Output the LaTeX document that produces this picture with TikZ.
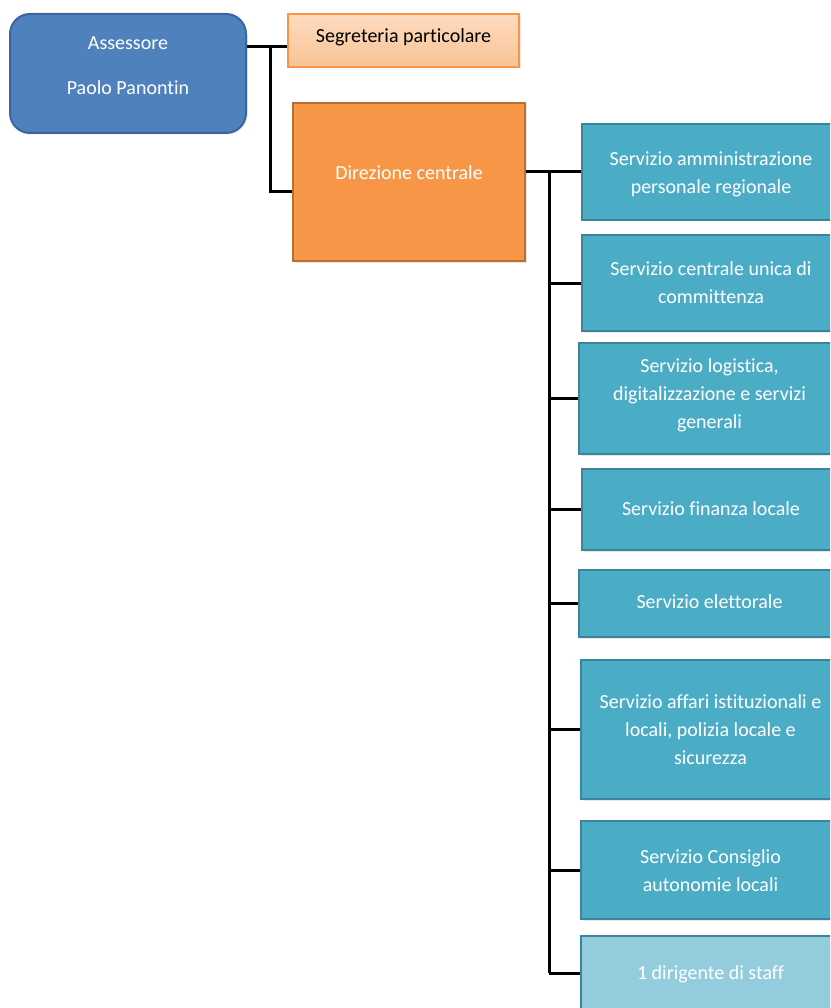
\documentclass[tikz,border=0pt]{standalone}
\usepackage{fontspec}
\setmainfont{Carlito}[Ligatures=NoCommon]
\usepackage{xcolor}
\usepackage{tikz}
\usetikzlibrary{positioning,shadows}
\definecolor{assblue}{HTML}{4F81BD}
\definecolor{assborder}{HTML}{3B64A0}
\definecolor{dirorange}{HTML}{F79646}
\definecolor{dirborder}{HTML}{B8702F}
\definecolor{segtop}{HTML}{FDDCC0}
\definecolor{segbottom}{HTML}{FAC393}
\definecolor{servteal}{HTML}{4BACC6}
\definecolor{servborder}{HTML}{3A8599}
\definecolor{staffteal}{HTML}{93CDDD}
\definecolor{staffborder}{HTML}{3A8599}
% testo centrato sul nodo, alzato di #1
\newcommand{\boxlines}[2]{\raisebox{\dimexpr#1-7.5pt\relax}[0pt][0pt]{\begin{tabular}{@{}c@{}}#2\end{tabular}}}
\tikzset{
  base box/.style={rectangle,draw,line width=2pt,inner sep=2pt,
    font=\fontsize{20}{28}\selectfont,
    drop shadow={opacity=0.2,shadow xshift=1.5pt,shadow yshift=-1.5pt}},
  assessore/.style={base box,fill=assblue,draw=assborder,text=white,rounded corners=20pt},
  segreteria/.style={base box,top color=segtop,bottom color=segbottom,draw=dirorange,text=black},
  direzione/.style={base box,fill=dirorange,draw=dirborder,text=white},
  servizio/.style={base box,fill=servteal,draw=servborder,text=white,minimum width=258pt},
  staff/.style={servizio,fill=staffteal,draw=staffborder},
  link/.style={draw,line width=3pt,black},
}
\begin{document}
\begin{tikzpicture}[x=1pt,y=-1pt]
    \useasboundingbox (0,0) rectangle (830,1008);
    \clip (0,0) rectangle (830,1008);

    % vertici
    \node[assessore,minimum width=236pt,minimum height=119pt] (ass) at (128,73.5)
      {\boxlines{9pt}{Assessore\\[17pt]Paolo Panontin}};
    \node[segreteria,minimum width=231pt,minimum height=53pt] (seg) at (403.5,40.5)
      {\boxlines{5.5pt}{Segreteria particolare}};
    \node[direzione,minimum width=232pt,minimum height=158pt] (dir) at (409,182)
      {\boxlines{10pt}{Direzione centrale}};

    % servizi
    \node[servizio,minimum height=96pt] (s1) at (711,172)
      {\boxlines{0.5pt}{Servizio amministrazione\\personale regionale}};
    \node[servizio,minimum height=96pt] (s2) at (711,283)
      {\boxlines{1pt}{Servizio centrale unica di\\committenza}};
    \node[servizio,minimum height=111pt,minimum width=261pt] (s3) at (709.5,398.5)
      {\boxlines{5.5pt}{Servizio logistica,\\digitalizzazione e servizi\\generali}};
    \node[servizio,minimum height=81pt] (s4) at (711,509.5)
      {\boxlines{1.5pt}{Servizio finanza locale}};
    \node[servizio,minimum height=67pt,minimum width=261pt] (s5) at (709.5,603.5)
      {\boxlines{2.5pt}{Servizio elettorale}};
    \node[servizio,minimum height=139pt,minimum width=259pt] (s6) at (710.5,729.5)
      {\boxlines{1pt}{Servizio affari istituzionali e\\locali, polizia locale e\\sicurezza}};
    \node[servizio,minimum height=98pt,minimum width=259pt] (s7) at (710.5,870)
      {\boxlines{0.5pt}{Servizio Consiglio\\autonomie locali}};
    \node[staff,minimum height=74pt,minimum width=259pt] (s8) at (710.5,973)
      {\boxlines{1pt}{1 dirigente di staff}};

    % collegamenti
    \coordinate (j1) at (270,47);
    \coordinate (bus) at (549,172);
    \path[link]
    (ass.east |- j1) -- (seg.west |- j1)
    (j1) |- ([yshift=-10pt]dir.west)
    (dir.east |- s1) -- (s1.west)
    (bus) -- (bus |- s8)
    ;
    \foreach \s in {s2,s3,s4,s5,s6,s7,s8}
      \path[link] (bus |- \s) -- (\s.west);
\end{tikzpicture}
\end{document}
